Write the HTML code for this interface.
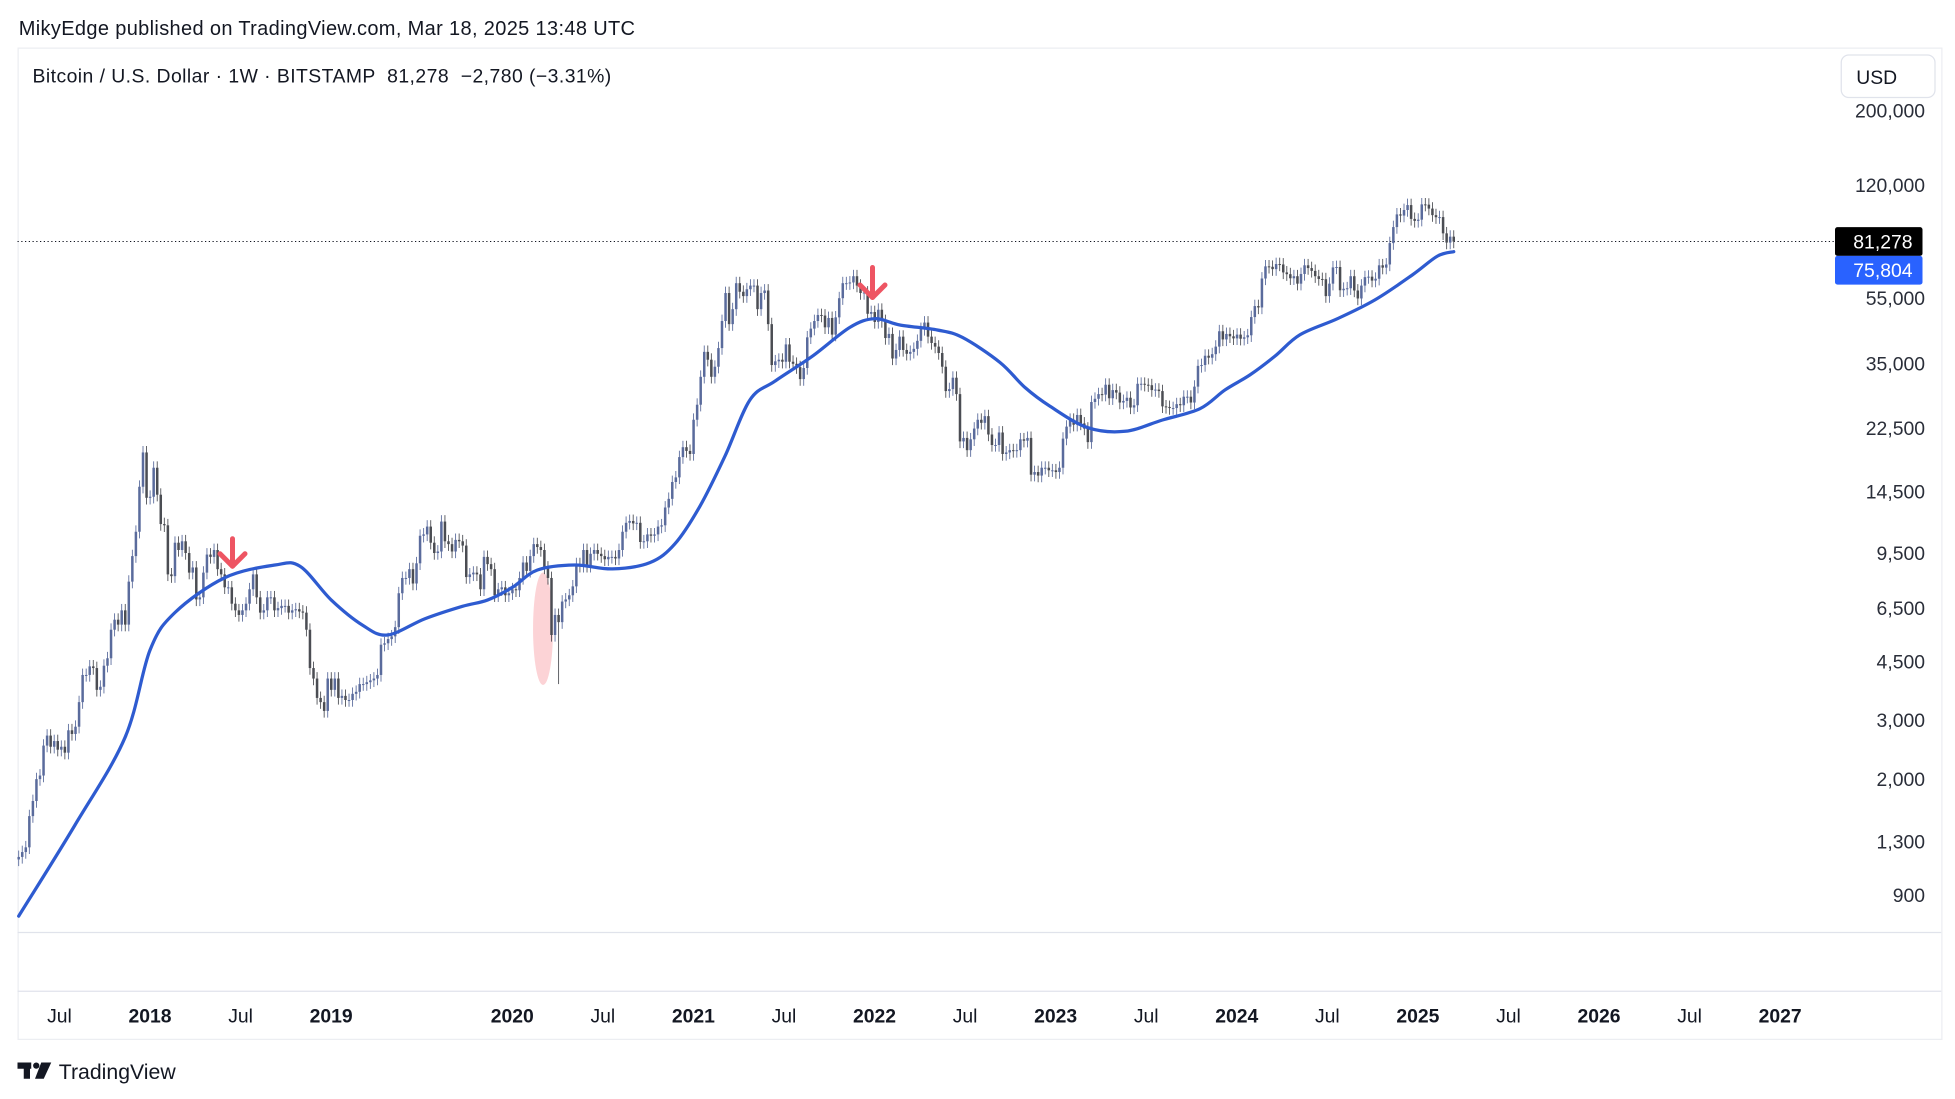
<!DOCTYPE html>
<html><head><meta charset="utf-8"><title>BTCUSD 1W</title>
<style>
html,body{margin:0;padding:0;background:#fff;}
svg{display:block;font-family:"Liberation Sans",sans-serif;}
text{white-space:pre;}
</style></head>
<body>
<svg id="chart" width="1955" height="1099" viewBox="0 0 1564 879.2" preserveAspectRatio="none" xmlns="http://www.w3.org/2000/svg">
  <text x="15" y="28" font-size="16" textLength="493" fill="#131722">MikyEdge published on TradingView.com, Mar 18, 2025 13:48 UTC</text>
  <rect x="14.5" y="38.5" width="1539" height="793" fill="#fff" stroke="#eceef2"/>
  <line x1="14" y1="746" x2="1553" y2="746" stroke="#e0e3eb"/>
  <line x1="14" y1="793" x2="1553" y2="793" stroke="#e0e3eb"/>
  <g id="price-axis"></g>
  <g id="time-axis"></g>
  <g id="plot"></g>
  <text x="26" y="66" font-size="15.5" textLength="463" fill="#131722" xml:space="preserve">Bitcoin / U.S. Dollar · 1W · BITSTAMP  81,278  −2,780 (−3.31%)</text>
  <rect x="1473" y="44" width="75" height="34" rx="6" fill="#fff" stroke="#e0e3eb"/>
  <text x="1485" y="67" font-size="15.5" fill="#131722">USD</text>
  <g fill="#131722">
    <rect x="14" y="850" width="11" height="5"/>
    <rect x="19" y="850" width="5" height="13"/>
    <circle cx="29" cy="852.5" r="2.5"/>
    <polygon points="33,850 41,850 35,863 28,863"/>
  </g>
  <text x="47" y="863" font-size="17" fill="#131722">TradingView</text>
</svg>
<script>
// ---- data ----
const startYear = 2017.275;
const endYear = 2025.198;
const closes = [
1170,1210,1250,
1550,1720,2000,2050,2520,
2700,2500,2600,2450,
2500,2400,2800,2730,2870,
3400,4100,4100,4350,
4300,3700,3780,4370,
4600,5600,6000,5800,6400,
5800,7800,9300,11000,
15000,19000,13900,14000,
17100,14200,11600,11500,8200,
8100,10200,9700,10300,
9500,8300,8600,6900,
7000,8300,9400,9250,9700,
8500,8200,7500,7500,
6700,6400,6200,6400,
6700,7400,8200,7000,
6300,6400,7000,7000,
6400,6500,6600,6600,
6300,6400,6450,6350,6300,
5600,4300,4000,3500,
3400,3200,4000,3700,4000,
3500,3550,3450,3450,
3600,3650,3850,3850,
3900,3950,4000,4100,
5050,5100,5250,5350,5700,
7200,8000,8000,8500,
7700,8850,10700,10800,
11400,10200,9500,9600,
11800,10300,10100,9600,
10400,10300,10000,8050,8200,
8300,8200,7400,9250,
8800,8500,7100,7400,
7500,7100,7200,7400,7350,
8000,8900,8400,9300,
10100,9900,9700,8600,
8000,5400,6200,5900,6800,
6900,7100,7550,8800,
8700,9700,8700,9450,
9700,9450,9300,9100,9250,
9250,9150,9700,11000,
11700,11850,11650,11700,10250,
10300,10800,10700,10800,
11400,11500,13000,13800,
15500,16000,18400,19700,19200,
18800,23800,26400,32000,
38000,36000,32000,34300,
39000,47000,57000,46000,
51000,61000,57500,55800,58500,
60000,60000,51000,57000,
58000,46000,34700,35600,36000,
35500,40000,35500,35000,
34200,31500,34000,42000,
44600,47000,49000,48800,
45000,48000,42800,48200,
55000,61000,61000,61300,
64000,60000,57000,57200,49400,
50000,46700,50800,47000,
41800,43000,36300,38500,
42200,38500,37500,38000,
38800,41000,44500,46500,
42200,40400,39400,37700,
34300,29000,29400,31800,
28400,20500,21000,19300,
20800,22400,23800,23300,
24400,21500,20000,20000,
21800,18800,19000,19300,
19200,19300,20800,20600,21000,
16300,16600,16200,17100,
17100,16800,16800,16600,
17100,20900,22700,23800,
23000,24600,23200,22400,
20400,26900,27500,28400,
28300,30300,27600,29200,
28700,26800,27100,27700,
25900,26300,30500,30500,
30300,30200,29200,29300,
29000,26100,26000,25800,
25800,26500,26300,27900,
27900,26800,29900,34500,34700,
37000,36500,37400,39400,
43800,41400,43000,42300,
41700,42800,41600,42000,42600,
48300,52100,51600,63000,
68500,68300,67200,69600,
69400,65700,64900,63100,64000,
60800,65000,69000,67700,
66400,64000,62800,62700,
55800,60800,68000,68200,58100,
58700,58900,64000,58000,
54900,60000,63600,63800,62100,
62900,69000,67900,69400,
80400,89800,98000,97200,
101000,104500,95000,93700,94500,
105000,104800,102000,
97500,96100,96200,86000,
80700,84058,81278
];
const firstOpen = 1150;
const lowOverrideWeek = [152];
const lowOverrideValue = [3850];
const maDates = [2017.275,2017.586,2017.862,2018.0,2018.138,2018.414,2018.690,2018.828,2019.001,2019.173,2019.311,2019.518,2019.725,2019.863,2020.001,2020.139,2020.346,2020.553,2020.760,2020.898,2021.036,2021.174,2021.312,2021.450,2021.657,2021.864,2022.002,2022.140,2022.347,2022.486,2022.693,2022.831,2022.969,2023.176,2023.383,2023.590,2023.797,2023.935,2024.073,2024.211,2024.349,2024.556,2024.763,2024.970,2025.108,2025.198];
const maValues = [778,1458,2663,4864,6305,8020,8745,8670,6870,5780,5400,6040,6580,6870,7500,8450,8745,8515,8890,10120,13110,18500,27270,31040,36880,44980,47760,45730,44180,41960,35320,29720,26120,22550,21980,23760,25690,29230,32430,36900,42750,47760,54370,64600,73500,75804];
const priceTicks = [200000,120000,55000,35000,22500,14500,9500,6500,4500,3000,2000,1300,900];
const priceTickLabels = ["200,000","120,000","55,000","35,000","22,500","14,500","9,500","6,500","4,500","3,000","2,000","1,300","900"];
const timeTicks = [2017.5,2018,2018.5,2019,2020,2020.5,2021,2021.5,2022,2022.5,2023,2023.5,2024,2024.5,2025,2025.5,2026,2026.5,2027];
const timeTickLabels = ["Jul","2018","Jul","2019","2020","Jul","2021","Jul","2022","Jul","2023","Jul","2024","Jul","2025","Jul","2026","Jul","2027"];
const lastPrice = 81278, lastMA = 75804;

// ---- scales ----
const NS = "http://www.w3.org/2000/svg";
function xScale(t){ return 120 + (t - 2018) * 144.9; }
function yScale(v){ return 148 + (Math.log10(120000) - Math.log10(v)) * 267.3; }
function mk(tag, attrs, parent){ const e = document.createElementNS(NS, tag); for (const k in attrs) e.setAttribute(k, attrs[k]); parent.appendChild(e); return e; }
const step = (endYear - startYear) / (closes.length - 1);

// price axis
const pa = document.getElementById('price-axis');
priceTicks.forEach((v, i) => {
  const t = mk('text', {x: 1540, y: yScale(v) + 5.5, 'text-anchor': 'end', 'font-size': 15.5, fill: '#2a2e39'}, pa);
  
  
  t.textContent = priceTickLabels[i];
});
// time axis
const ta = document.getElementById('time-axis');
timeTicks.forEach((tt, i) => {
  const bold = /^\d{4}$/.test(timeTickLabels[i]);
  const t = mk('text', {x: xScale(tt), y: 818, 'text-anchor': 'middle', 'font-size': 15.5, fill: '#131722', 'font-weight': bold ? 'bold' : 'normal'}, ta);
  
  
  t.textContent = timeTickLabels[i];
});

const plot = document.getElementById('plot');
const pl = mk('line', {x1: 14, x2: 1468, y1: yScale(lastPrice), y2: yScale(lastPrice), stroke: '#131722', 'stroke-width': 0.8, 'stroke-dasharray': '1 2'}, plot);



const el = mk('ellipse', {cx: xScale(2020.17), cy: 503, rx: 8, ry: 45, fill: 'rgba(242,54,69,0.22)'}, plot);



// candles
const cg = mk('g', {}, plot);


closes.forEach((c, i) => {
  const o = i === 0 ? firstOpen : closes[i - 1];
  const hiBody = Math.max(o, c), loBody = Math.min(o, c);
  const k = lowOverrideWeek.indexOf(i);
  const high = hiBody * 1.045;
  const low = k >= 0 ? lowOverrideValue[k] : loBody * 0.955;
  const x = xScale(startYear + i * step);
  const up = c >= o;
  const col = up ? '#5a6b9c' : '#4b4d53';
  const w = mk('line', {x1: x, x2: x, y1: yScale(high), y2: yScale(low), stroke: col, 'stroke-width': 0.7}, cg);
  
  
  const yt = yScale(hiBody), yb = yScale(loBody);
  const b = mk('rect', {x: x - 1, y: yt, width: 2, height: Math.max(0.8, yb - yt), fill: col}, cg);
  
  
});

// moving average (smoothed Catmull-Rom through points)
const pts = maDates.map((t, i) => [xScale(t), yScale(maValues[i])]);
let d = 'M' + pts[0][0].toFixed(2) + ',' + pts[0][1].toFixed(2);
for (let i = 0; i < pts.length - 1; i++) {
  const p0 = pts[Math.max(0, i - 1)], p1 = pts[i], p2 = pts[i + 1], p3 = pts[Math.min(pts.length - 1, i + 2)];
  const c1x = p1[0] + (p2[0] - p0[0]) / 6, c1y = p1[1] + (p2[1] - p0[1]) / 6;
  const c2x = p2[0] - (p3[0] - p1[0]) / 6, c2y = p2[1] - (p3[1] - p1[1]) / 6;
  d += 'C' + c1x.toFixed(2) + ',' + c1y.toFixed(2) + ' ' + c2x.toFixed(2) + ',' + c2y.toFixed(2) + ' ' + p2[0].toFixed(2) + ',' + p2[1].toFixed(2);
}
const ma = mk('path', {d: d, fill: 'none', stroke: '#2e5bd0', 'stroke-width': 2.6, 'stroke-linejoin': 'round', 'stroke-linecap': 'round'}, plot);



function arrow(cx, y1, y2, name){
  const g = mk('g', {stroke: '#ee5563', 'stroke-width': 4, 'stroke-linecap': 'round', 'stroke-linejoin': 'round', fill: 'none'}, plot);
  
  
  mk('line', {x1: cx, x2: cx, y1: y1, y2: y2}, g);
  mk('polyline', {points: (cx - 10) + ',' + (y2 - 10) + ' ' + cx + ',' + y2 + ' ' + (cx + 10) + ',' + (y2 - 10)}, g);
}
arrow(186, 431, 453, 'sell-arrow-2018');
arrow(698, 214, 238, 'sell-arrow-2022');

const lp = mk('rect', {x: 1468, y: yScale(lastPrice) - 11.5, width: 70, height: 23, fill: '#000', rx: 2}, plot);


const lpt = mk('text', {x: 1530, y: yScale(lastPrice) + 5.5, 'text-anchor': 'end', 'font-size': 15.5, fill: '#fff'}, plot);


lpt.textContent = lastPrice.toLocaleString('en-US');
const mb = mk('rect', {x: 1468, y: yScale(lastPrice) + 11.5, width: 70, height: 23, fill: '#2962ff', rx: 2}, plot);


const mbt = mk('text', {x: 1530, y: yScale(lastPrice) + 28.5, 'text-anchor': 'end', 'font-size': 15.5, fill: '#fff'}, plot);


mbt.textContent = lastMA.toLocaleString('en-US');
</script>
</body></html>
